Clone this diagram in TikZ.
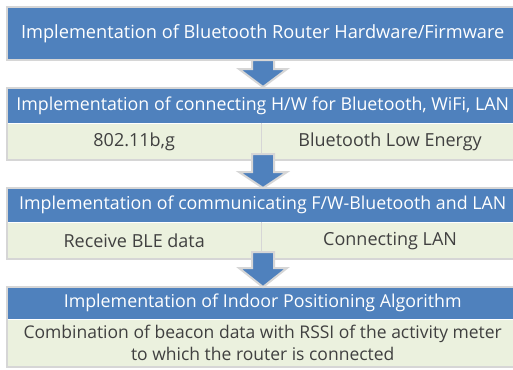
\documentclass[tikz,border=0pt]{standalone}
\usepackage{fontspec}
\setmainfont{Open Sans}
\definecolor{hdrblue}{HTML}{4F81BD}
\definecolor{rowgreen}{HTML}{EBF1DE}
\definecolor{edgegray}{HTML}{D6D6D6}
\definecolor{txtgray}{HTML}{404040}
\begin{document}
\begin{tikzpicture}[x=1pt,y=-1pt,
  hdr/.style={fill=hdrblue,text=white,inner sep=0pt,minimum width=511pt,anchor=north west,font=\fontsize{17.8}{20}\selectfont},
  cell/.style={fill=rowgreen,text=txtgray,inner sep=0pt,anchor=north west,font=\fontsize{18}{20}\selectfont},
  boxedge/.style={draw=edgegray,line width=2pt},
  divider/.style={draw=edgegray,line width=1.6pt},
  blockarrow/.style={fill=hdrblue,draw=edgegray,line width=2pt,line join=miter}]
\useasboundingbox (0,0) rectangle (513,369);
\clip (0,0) rectangle (513,369);
\fill[white] (0,0) rectangle (513,369);
% box 1
\node[hdr,minimum height=53pt,font=\fontsize{18.2}{20}\selectfont] (h1) at (7,7) {Implementation of Bluetooth Router Hardware/Firmware};
\draw[boxedge] (h1.north west) rectangle (h1.south east);
% box 2
\node[hdr,minimum height=35pt] (h2) at (7,88) {Implementation of connecting H/W for Bluetooth, WiFi, LAN};
\node[cell,minimum width=254pt,minimum height=36pt] (c2l) at (h2.south west) {802.11b,g};
\node[cell,minimum width=257pt,minimum height=36pt] (c2r) at (c2l.north east) {Bluetooth Low Energy};
\draw[divider] (c2l.north east) -- (c2l.south east);
\draw[boxedge] (h2.north west) rectangle (c2r.south east);
% box 3
\node[hdr,minimum height=34pt] (h3) at (7,188) {Implementation of communicating F/W-Bluetooth and LAN};
\node[cell,minimum width=254pt,minimum height=36pt] (c3l) at (h3.south west) {Receive BLE data};
\node[cell,minimum width=257pt,minimum height=36pt] (c3r) at (c3l.north east) {Connecting LAN};
\draw[divider] (c3l.north east) -- (c3l.south east);
\draw[boxedge] (h3.north west) rectangle (c3r.south east);
% box 4
\node[hdr,minimum height=32pt] (h4) at (7,287) {Implementation of Indoor Positioning Algorithm};
\node[cell,minimum width=511pt,minimum height=47pt,align=center,font=\fontsize{17.5}{21.5}\selectfont] (c4) at (h4.south west) {Combination of beacon data with RSSI of the activity meter\\to which the router is connected};
\draw[boxedge] (h4.north west) rectangle (c4.south east);
% arrows
\draw[blockarrow] (252,60) -- (274,60) -- (274,69) -- (287,69) -- (263,87) -- (239,69) -- (252,69) -- cycle;
\draw[blockarrow] (252,154) -- (274,154) -- (274,172) -- (287,172) -- (263,188) -- (239,172) -- (252,172) -- cycle;
\draw[blockarrow] (252,252) -- (274,252) -- (274,268) -- (287,268) -- (263,287) -- (239,268) -- (252,268) -- cycle;
\end{tikzpicture}
\end{document}
